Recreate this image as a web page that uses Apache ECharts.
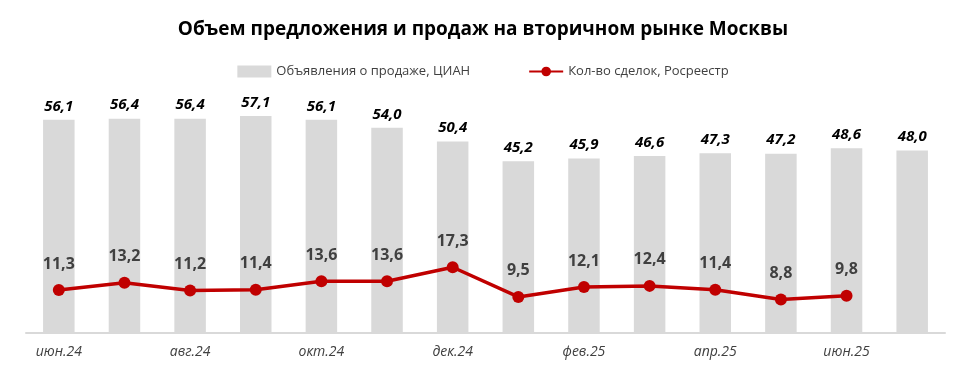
<!DOCTYPE html>
<html><head><meta charset="utf-8">
<script src="https://cdn.jsdelivr.net/npm/echarts@6/dist/echarts.min.js"></script>
<style>html,body{margin:0;padding:0;background:#fff}#c{width:966px;height:369px}</style>
</head><body><div id="c"></div>
<script>
const categories = ['июн.24','июл.24','авг.24','сен.24','окт.24','ноя.24','дек.24','янв.25','фев.25','мар.25','апр.25','май.25','июн.25','июл.25'];
const listings = [56.1,56.4,56.4,57.1,56.1,54.0,50.4,45.2,45.9,46.6,47.3,47.2,48.6,48.0];
const deals = [11.3,13.2,11.2,11.4,13.6,13.6,17.3,9.5,12.1,12.4,11.4,8.8,9.8,null];
const fmt = v => v.toFixed(1).replace('.', ',');
const chart = echarts.init(document.getElementById('c'));
chart.setOption({
  animation:false,
  textStyle:{fontFamily:'Open Sans'},
  title:{text:'Объем предложения и продаж на вторичном рынке Москвы',left:'center',top:15,
    textStyle:{fontSize:19,fontWeight:'bold',color:'#000',fontFamily:'Open Sans'}},
  legend:{top:60,left:'center',itemGap:58,itemWidth:34,itemHeight:12,
    textStyle:{fontSize:13,color:'#404040'},
    data:[{name:'Объявления о продаже, ЦИАН',icon:'rect',itemStyle:{color:'#d9d9d9'}},
          {name:'Кол-во сделок, Росреестр'}]},
  grid:{left:26,right:21,top:105,bottom:36},
  xAxis:{type:'category',data:categories,
    axisLine:{lineStyle:{color:'#d9d9d9',width:2}},axisTick:{show:false},
    axisLabel:{interval:1,fontStyle:'italic',fontSize:14,color:'#404040',margin:12}},
  yAxis:{type:'value',min:0,max:60,show:false,splitLine:{show:false}},
  series:[
    {name:'Объявления о продаже, ЦИАН',type:'bar',data:listings,barWidth:'48%',
      itemStyle:{color:'#d9d9d9'},
      label:{show:true,position:'top',distance:6,formatter:p=>fmt(p.value),
        fontSize:15,fontWeight:'bold',fontStyle:'italic',color:'#000'}},
    {name:'Кол-во сделок, Росреестр',type:'line',data:deals,
      lineStyle:{color:'#c00000',width:3.5},itemStyle:{color:'#c00000'},
      symbol:'circle',symbolSize:12,
      label:{show:true,position:'top',distance:12,formatter:p=>fmt(p.value),
        fontSize:16,fontWeight:'bold',color:'#404040'}}
  ]
});
</script></body></html>
